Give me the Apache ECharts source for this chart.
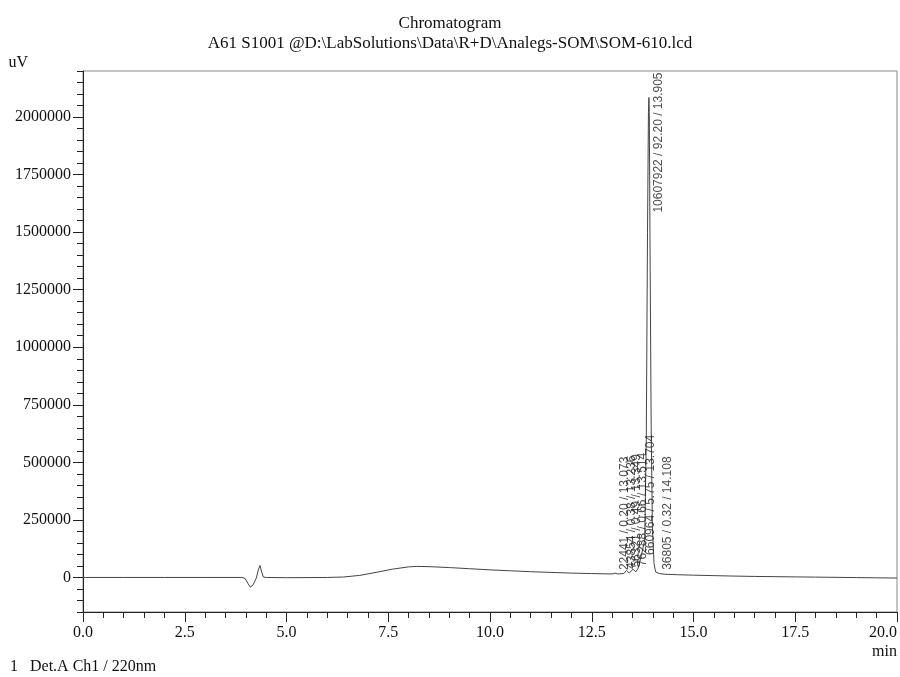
<!DOCTYPE html>
<html>
<head>
<meta charset="utf-8">
<script src="https://cdn.jsdelivr.net/npm/echarts@6/dist/echarts.min.js"></script>
<style>
  html, body { margin: 0; padding: 0; background: #fff; }
  #chart { width: 900px; height: 677px; }
</style>
</head>
<body>
<div id="chart"></div>
<script>
// detector trace, [min, uV]
const trace = [
  [0.0, 0], [1.0, 0], [2.0, 0], [3.0, 0], [3.9, 0], [3.98, -4000], [4.05, -25000],
  [4.11, -42000], [4.18, -32000], [4.26, -2000], [4.31, 35000], [4.35, 52000],
  [4.39, 24000], [4.43, 2000], [4.5, 0], [5.0, -1000], [6.0, 0], [6.4, 2000],
  [6.8, 9000], [7.2, 22000], [7.6, 36000], [8.0, 46000], [8.2, 48000], [8.5, 47000],
  [9.0, 43000], [9.5, 38000], [10.0, 33000], [10.5, 29000], [11.0, 25000],
  [11.5, 22000], [12.0, 19000], [12.5, 17000], [12.9, 15500], [13.02, 15500],
  [13.073, 19000], [13.13, 15500], [13.19, 16000], [13.236, 24000], [13.29, 17000],
  [13.349, 30000], [13.42, 19000], [13.514, 36000], [13.58, 24000], [13.64, 40000],
  [13.704, 85000], [13.75, 80000], [13.8, 160000], [13.84, 600000], [13.87, 1500000],
  [13.893, 2020000], [13.905, 2085000], [13.915, 2010000], [13.93, 1500000],
  [13.96, 650000], [13.99, 220000], [14.03, 60000], [14.07, 24000], [14.108, 20000],
  [14.16, 17000], [14.3, 14000], [14.6, 12000], [15.0, 10000], [15.5, 8000],
  [16.0, 6000], [16.5, 4500], [17.0, 3500], [17.5, 2500], [18.0, 1500], [18.5, 500],
  [19.0, -500], [19.5, -1500], [20.0, -2500]
];

// integrated peaks
const peakTimes = [13.073, 13.236, 13.349, 13.514, 13.704, 13.905, 14.108];
const peakHeights = [19000, 24000, 30000, 36000, 85000, 2085000, 20000];
const peakAreas = [22441, 43854, 56321, 76288, 660964, 10607922, 36805];
const peakPercents = [0.20, 0.38, 0.49, 0.66, 5.75, 92.20, 0.32];

const yLabelValues = [0, 250000, 500000, 750000, 1000000, 1250000, 1500000, 1750000, 2000000];

const chart = echarts.init(document.getElementById('chart'));

const serif = 'Liberation Serif';
const peakData = peakTimes.map(function (t, i) {
  const big = peakHeights[i] > 1500000;
  return {
    value: [t, peakHeights[i]],
    label: {
      formatter: peakAreas[i] + ' / ' + peakPercents[i].toFixed(2) + ' / ' + t.toFixed(3),
      align: big ? 'right' : 'left',
      offset: big ? [25, 10] : [3, 10]
    }
  };
});

const titleStyle = { fontFamily: serif, fontSize: 17, fontWeight: 'normal', color: '#111' };

const option = {
  animation: false,
  backgroundColor: '#fff',
  title: [
    { text: 'Chromatogram', left: 'center', top: 15, padding: 0, textStyle: titleStyle },
    {
      text: 'A61 S1001 @D:\\LabSolutions\\Data\\R+D\\Analegs-SOM\\SOM-610.lcd',
      left: 'center', top: 35, padding: 0, textStyle: titleStyle
    },
    {
      text: '1   Det.A Ch1 / 220nm',
      left: 10, top: 659, padding: 0,
      textStyle: { fontFamily: serif, fontSize: 16, fontWeight: 'normal', color: '#111' }
    }
  ],
  grid: {
    left: 83, right: 3, top: 71, bottom: 65,
    outerBoundsMode: 'none',
    containLabel: false,
    show: true, borderColor: '#888', borderWidth: 1
  },
  xAxis: [
    {
      type: 'value', min: 0, max: 20, interval: 2.5,
      name: 'min', nameLocation: 'end', nameGap: 0,
      nameTextStyle: { fontFamily: serif, fontSize: 16, color: '#111', align: 'right', verticalAlign: 'top', padding: [32, 0, 0, 0] },
      axisLine: { onZero: false, lineStyle: { color: '#222', width: 1 } },
      axisTick: { length: 10, lineStyle: { color: '#222' } },
      axisLabel: {
        fontFamily: serif, fontSize: 16, color: '#111', margin: 13, alignMaxLabel: 'right',
        formatter: function (v) { return v.toFixed(1); }
      },
      splitLine: { show: false }
    },
    {
      type: 'value', min: 0, max: 20, interval: 0.5, position: 'bottom',
      axisLine: { show: false, onZero: false },
      axisTick: { length: 6, lineStyle: { color: '#222' } },
      axisLabel: { show: false },
      splitLine: { show: false }
    }
  ],
  yAxis: [
    {
      type: 'value', min: -150000, max: 2200000,
      name: 'uV', nameLocation: 'end', nameGap: 0,
      nameTextStyle: { fontFamily: serif, fontSize: 16, color: '#111', align: 'right', padding: [0, 55, 0, 0] },
      axisLine: { show: true, onZero: false, lineStyle: { color: '#222', width: 1 } },
      axisTick: { show: true, length: 10, customValues: yLabelValues, lineStyle: { color: '#222' } },
      axisLabel: {
        fontFamily: serif, fontSize: 16, color: '#111', margin: 12, customValues: yLabelValues,
        formatter: function (v) { return String(v); }
      },
      splitLine: { show: false }
    },
    {
      type: 'value', min: -150000, max: 2200000, interval: 50000, position: 'left',
      axisLine: { show: false, onZero: false },
      axisTick: { show: true, length: 6, lineStyle: { color: '#222' } },
      axisLabel: { show: false },
      splitLine: { show: false }
    }
  ],
  series: [
    {
      type: 'line',
      data: trace,
      symbol: 'none',
      lineStyle: { color: '#444', width: 1 },
      silent: true
    },
    {
      type: 'scatter',
      data: peakData,
      symbolSize: 0,
      silent: true,
      z: 5,
      label: {
        show: true,
        position: 'inside',
        rotate: 90,
        verticalAlign: 'middle',
        fontFamily: 'Liberation Sans',
        fontSize: 12,
        color: '#222'
      }
    }
  ]
};

chart.setOption(option);
</script>
</body>
</html>
